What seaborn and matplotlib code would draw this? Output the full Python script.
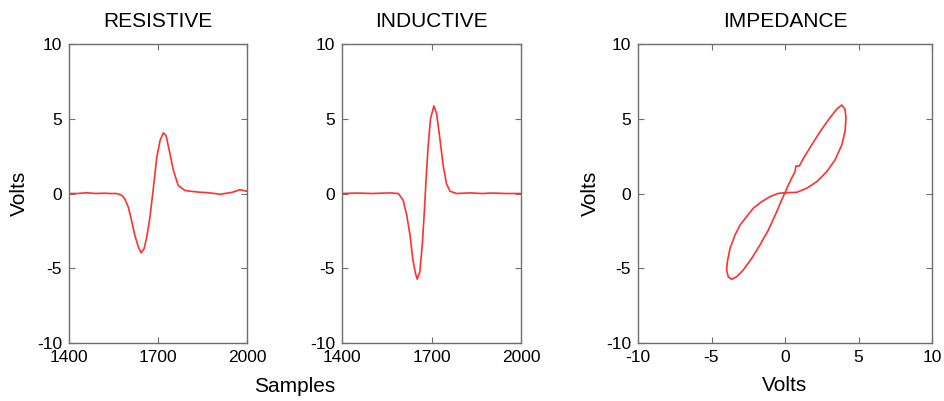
import matplotlib
matplotlib.use("Agg")
import matplotlib.pyplot as plt
import seaborn as sns
import pandas as pd

# ---- data ----
resistive_samples = [1400, 1430, 1460, 1490, 1520, 1538, 1560, 1572, 1581, 1589, 1600, 1611, 1622,
                     1634, 1643, 1653, 1662, 1673, 1684, 1696, 1707, 1718, 1727, 1738, 1752, 1768,
                     1791, 1819, 1839, 1870, 1909, 1950, 1976, 2000]
resistive_volts = [0.0, 0.0, 0.05, 0.0, 0.02, 0.0, 0.0, -0.07, -0.18, -0.4, -0.92, -1.81, -2.81,
                   -3.59, -3.97, -3.70, -2.92, -1.58, 0.3, 2.43, 3.55, 4.06, 3.88, 2.88, 1.54, 0.54,
                   0.2, 0.13, 0.09, 0.05, -0.05, 0.08, 0.25, 0.15]

inductive_samples = [1400, 1450, 1500, 1561, 1589, 1605, 1617, 1628, 1637, 1645, 1652, 1661, 1669,
                     1676, 1682, 1689, 1697, 1708, 1717, 1728, 1739, 1750, 1762, 1784, 1829, 1870,
                     1900, 1950, 2000]
inductive_volts = [0.0, 0.03, 0.0, 0.04, 0.0, -0.45, -1.45, -2.79, -4.35, -5.24, -5.73, -5.24, -3.46,
                   -1.23, 1.0, 3.23, 5.02, 5.86, 5.35, 3.68, 1.89, 0.67, 0.15, 0.0, 0.04, 0.0,
                   0.03, 0.0, 0.0]

impedance_x = [0.0, -0.45, -1.02, -1.59, -2.16, -2.61, -3.06, -3.40, -3.74, -3.92, -3.97, -3.86,
               -3.63, -3.29, -2.84, -2.27, -1.70, -1.13, -0.56, -0.23, 0.0, 0.23, 0.45, 0.68,
               0.75, 0.98, 1.25, 1.81, 2.38, 2.95, 3.52, 3.86, 4.08, 4.15, 4.08, 3.86, 3.40,
               2.84, 2.16, 1.48, 0.80, 0.0]
impedance_y = [0.05, 0.01, -0.21, -0.55, -0.99, -1.55, -2.11, -2.78, -3.67, -4.56, -5.12, -5.57,
               -5.74, -5.57, -5.12, -4.34, -3.44, -2.44, -1.22, -0.43, 0.05, 0.57, 1.02, 1.46,
               1.84, 1.84, 2.35, 3.24, 4.13, 4.92, 5.65, 5.92, 5.65, 5.03, 4.13, 3.24, 2.24,
               1.46, 0.79, 0.35, 0.08, 0.05]

titles = ["RESISTIVE", "INDUCTIVE", "IMPEDANCE"]
sample_ticks = [1400, 1700, 2000]
volt_ticks = [-10, -5, 0, 5, 10]
volt_ticklabels = ["-10", "-5", "0", "5", "10"]

# ---- style ----
sns.set_style("white")
plt.rcParams["font.family"] = ["Liberation Sans", "DejaVu Sans"]
plt.rcParams["text.color"] = "black"

W, H = 944, 401
fig = plt.figure(figsize=(W / 100, H / 100), dpi=100)

def px_axes(left, right, top, bottom):
    return fig.add_axes([left / W, 1 - bottom / H, (right - left) / W, (bottom - top) / H])

ax1 = px_axes(69, 247, 44, 343)
ax2 = px_axes(342, 521, 44, 343)
ax3 = px_axes(638, 932, 44, 343)

line_color = "#ff3030"
edge = "#6e6e6e"

df_r = pd.DataFrame({"Samples": resistive_samples, "Volts": resistive_volts})
df_i = pd.DataFrame({"Samples": inductive_samples, "Volts": inductive_volts})
df_z = pd.DataFrame({"x": impedance_x, "y": impedance_y})

kw = dict(color=line_color, lw=1.2, sort=False, estimator=None)
sns.lineplot(data=df_r, x="Samples", y="Volts", ax=ax1, **kw)
sns.lineplot(data=df_i, x="Samples", y="Volts", ax=ax2, **kw)
sns.lineplot(data=df_z, x="x", y="y", ax=ax3, **kw)

for ax, title in zip([ax1, ax2, ax3], titles):
    ax.set_title(title, fontsize=15, pad=12, color="black")
    ax.set_ylim(-10, 10)
    ax.set_yticks(volt_ticks)
    ax.set_yticklabels(volt_ticklabels)
    ax.tick_params(direction="in", length=4, width=0.8, labelsize=12.5,
                   top=True, right=True, left=True, bottom=True, pad=5,
                   colors=edge, labelcolor="black")
    for sp in ax.spines.values():
        sp.set_visible(True)
        sp.set_color(edge)
        sp.set_linewidth(1.0)
    ax.set_xlabel("")
    ax.set_ylabel("")

for ax in (ax1, ax2):
    ax.set_xlim(1400, 2000)
    ax.set_xticks(sample_ticks)
    ax.set_xticklabels([str(t) for t in sample_ticks])

ax3.set_xlim(-10, 10)
ax3.set_xticks(volt_ticks)
ax3.set_xticklabels(volt_ticklabels)

ax1.set_ylabel("Volts", fontsize=15, labelpad=6, color="black")
ax3.set_ylabel("Volts", fontsize=15, labelpad=4, color="black")
ax3.set_xlabel("Volts", fontsize=15, labelpad=8, color="black")
fig.text(295 / W, 1 - 386 / H, "Samples", fontsize=15, ha="center", va="center", color="black")

fig.savefig("out.png", dpi=100, facecolor="white")
